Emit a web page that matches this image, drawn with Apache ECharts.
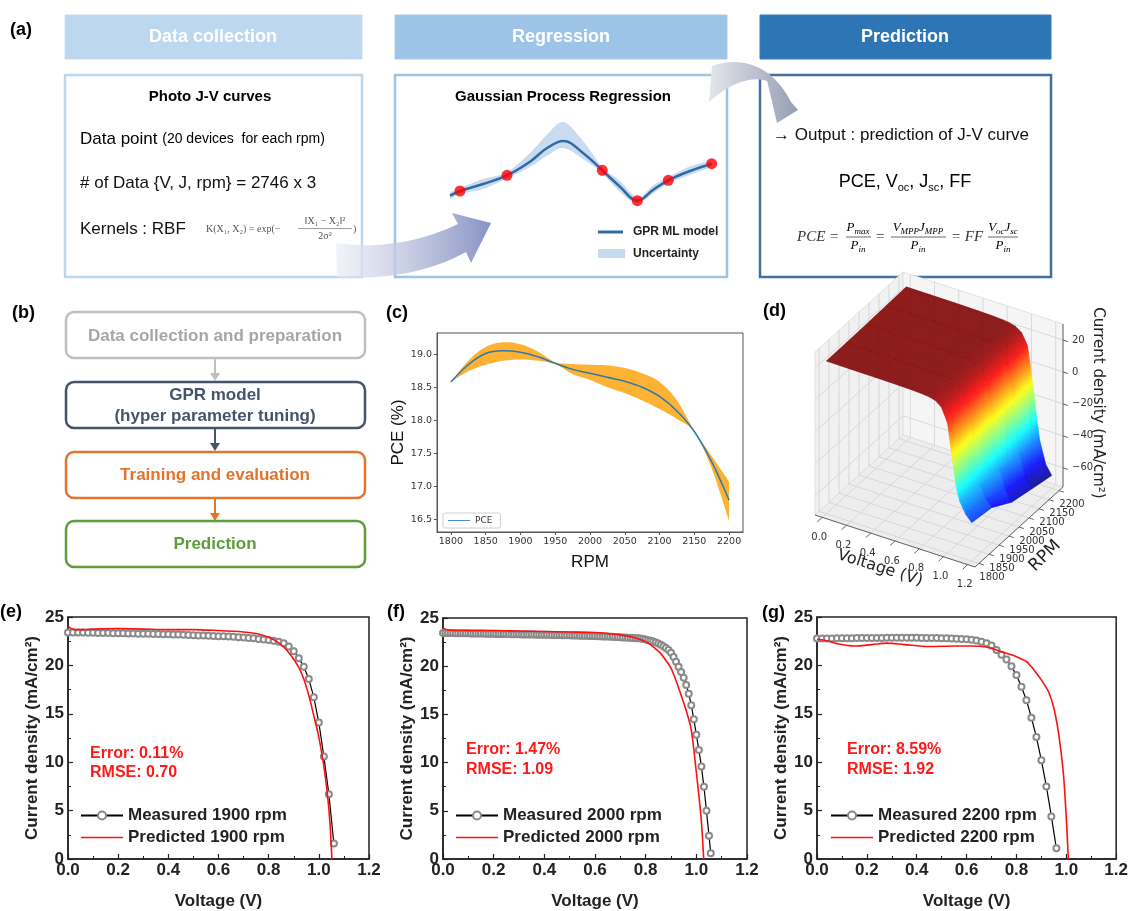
<!DOCTYPE html>
<html><head><meta charset="utf-8">
<script src="https://cdn.jsdelivr.net/npm/echarts@6/dist/echarts.min.js"></script>
<style>html,body{margin:0;padding:0;background:#fff}#c{width:1131px;height:911px}</style>
</head><body><div id="c"></div>
<script>
// ---------------- DATA ----------------
// (c) PCE vs RPM (GPR mean and uncertainty band)
const pceRpm   = [1800,1825,1850,1875,1900,1925,1950,1975,2000,2025,2050,2075,2100,2125,2150,2175,2200];
const pceMean  = [18.58,18.84,19.01,19.05,19.03,18.96,18.86,18.77,18.71,18.65,18.59,18.50,18.36,18.14,17.83,17.37,16.79];
const pceUpper = [18.58,18.90,19.11,19.18,19.15,19.04,18.88,18.85,18.84,18.83,18.79,18.71,18.58,18.30,17.84,17.46,17.07];
const pceLower = [18.58,18.74,18.84,18.90,18.92,18.90,18.85,18.70,18.61,18.50,18.41,18.30,18.17,18.02,17.82,17.27,16.47];
const pceXTicks = [1800,1850,1900,1950,2000,2050,2100,2150,2200];
const pceYTicks = [16.5,17.0,17.5,18.0,18.5,19.0];

// (e) 1900 rpm
const vMeasE = [0,0.02,0.04,0.06,0.08,0.1,0.12,0.14,0.16,0.18,0.2,0.22,0.24,0.26,0.28,0.3,0.32,0.34,0.36,0.38,0.4,0.42,0.44,0.46,0.48,0.5,0.52,0.54,0.56,0.58,0.6,0.62,0.64,0.66,0.68,0.7,0.72,0.74,0.76,0.78,0.8,0.82,0.84,0.86,0.88,0.9,0.92,0.94,0.96,0.98,1.0,1.02,1.04,1.06];
const jMeasE = [23.40,23.40,23.40,23.39,23.38,23.37,
  23.36,23.35,23.34,23.33,23.32,23.31,23.30,23.29,23.28,23.27,
  23.26,23.25,23.24,23.23,23.22,23.20,23.18,23.16,23.14,23.12,
  23.10,23.08,23.06,23.04,23.02,23.00,22.98,22.95,22.92,22.88,
  22.84,22.80,22.74,22.68,22.62,22.54,22.44,22.30,21.95,21.45,
  20.75,19.85,18.60,16.70,14.10,10.60,6.70,1.60];
const vPredE = [0,0.01,0.03,0.06,0.1,0.2,0.3,0.4,0.5,0.6,0.7,0.75,0.78,0.8,0.83,0.86,0.89,0.92,0.94,0.96,0.98,1.0,1.02,1.035,1.045,1.052];
const jPredE = [24.05,23.85,23.7,23.7,23.75,23.8,23.75,23.7,23.7,23.6,23.45,23.3,23.1,22.9,22.5,21.9,21.0,19.8,18.6,16.9,14.8,12.6,9.6,6.5,3.5,0];

// (f) 2000 rpm
const vMeasF = [0,0.01,0.02,0.03,0.04,0.05,0.06,0.07,0.08,0.09,0.1,0.11,0.12,0.13,0.14,0.15,0.16,0.17,0.18,0.19,0.2,0.21,0.22,0.23,0.24,0.25,0.26,0.27,0.28,0.29,0.3,0.31,0.32,0.33,0.34,0.35,0.36,0.37,0.38,0.39,0.4,0.41,0.42,0.43,0.44,0.45,0.46,0.47,0.48,0.49,0.5,0.51,0.52,0.53,0.54,0.55,0.56,0.57,0.58,0.59,0.6,0.61,0.62,0.63,0.64,0.65,0.66,0.67,0.68,0.69,0.7,0.71,0.72,0.73,0.74,0.75,0.76,0.77,0.78,0.79,0.8,0.81,0.82,0.83,0.84,0.85,0.86,0.87,0.88,0.89,0.9,0.91,0.92,0.93,0.94,0.95,0.96,0.97,0.98,0.99,1.0,1.01,1.02,1.03,1.04,1.05,1.057];
const jMeasF = [23.45,23.45,23.45,23.44,23.44,23.43,23.43,23.42,23.42,23.41,
  23.41,23.40,23.40,23.39,23.39,23.38,23.38,23.37,23.37,23.36,
  23.36,23.35,23.35,23.34,23.34,23.33,23.33,23.32,23.32,23.31,
  23.31,23.30,23.30,23.29,23.29,23.28,23.28,23.27,23.27,23.26,
  23.26,23.25,23.25,23.24,23.24,23.23,23.23,23.22,23.21,23.20,
  23.20,23.19,23.18,23.18,23.17,23.16,23.15,23.15,23.14,23.13,
  23.12,23.11,23.10,23.09,23.08,23.07,23.06,23.05,23.03,23.02,
  23.00,22.99,22.97,22.96,22.94,22.93,22.91,22.89,22.87,22.82,
  22.76,22.70,22.63,22.55,22.45,22.35,22.23,22.08,21.90,21.68,
  21.40,20.95,20.45,19.95,19.40,18.80,18.05,17.15,15.95,14.50,
  12.90,11.30,9.60,7.50,5.00,2.40,0.60];
const vPredF = [0,0.02,0.05,0.1,0.2,0.3,0.4,0.5,0.6,0.65,0.7,0.75,0.8,0.83,0.86,0.88,0.9,0.92,0.94,0.96,0.98,1.0,1.01,1.02,1.029];
const jPredF = [23.95,23.75,23.7,23.7,23.7,23.65,23.6,23.55,23.5,23.4,23.25,23.0,22.55,22.0,21.3,20.6,19.8,18.5,17.0,15.4,13.4,9.0,6.6,3.9,0];

// (g) 2200 rpm
const vMeasG = [0,0.02,0.04,0.06,0.08,0.1,0.12,0.14,0.16,0.18,0.2,0.22,0.24,0.26,0.28,0.3,0.32,0.34,0.36,0.38,0.4,0.42,0.44,0.46,0.48,0.5,0.52,0.54,0.56,0.58,0.6,0.62,0.64,0.66,0.68,0.7,0.72,0.74,0.76,0.78,0.8,0.82,0.84,0.86,0.88,0.9,0.92,0.94,0.96];
const jMeasG = [22.78,22.78,22.79,22.79,22.80,22.80,22.81,22.81,22.82,22.82,22.83,
  22.83,22.84,22.84,22.85,22.85,22.85,22.85,22.85,22.85,22.85,
  22.84,22.84,22.83,22.82,22.81,22.80,22.78,22.76,22.73,22.70,
  22.65,22.57,22.45,22.28,22.05,21.60,21.10,20.60,19.90,19.00,17.80,16.40,14.60,12.60,10.20,7.50,4.40,1.10];
const vPredG = [0,0.03,0.08,0.15,0.22,0.28,0.35,0.45,0.55,0.62,0.68,0.72,0.76,0.8,0.84,0.86,0.88,0.9,0.93,0.95,0.97,0.988,1.0,1.008];
const jPredG = [22.7,22.6,22.25,22.0,22.15,22.3,22.15,21.95,22.0,22.0,21.9,21.6,21.25,20.9,20.4,19.85,19.2,18.5,17.2,15.6,12.8,8.9,4.2,0];

// (a) schematic GPR curve (arbitrary units)
const gprX    = [10,20,43,67,90,106.7,123.3,143,162.3,180,197.3,213,228.3,250,271.7];
const gprMean = [14.3,19,26,34.7,48.3,61.7,69,57,39.7,23.3,9.3,20,29.7,39,46.3];
const gprUp   = [17.5,22,31,38,57,75,88,69,43,29,12.5,24.5,33,43.5,49.5];
const gprLow  = [10.5,16,21,31.5,43,54,62,51,36.5,18,6.5,16.5,26.5,35,43];
const gprDotX = [20,67,162.3,197.3,228.3,271.7];
const gprDotY = [19,34.7,39.7,9.3,29.7,46.3];

// (d) 3D surface J(V, rpm)
const surfV   = [0,0.2,0.4,0.6,0.7,0.8,0.85,0.9,0.95,1.0,1.025,1.05,1.075,1.1,1.15,1.2];
const surfRpm = [1800,1900,2000,2100,2200];
const surfJ1800 = [23.5,23.4,23.3,23.1,22.9,22.5,22.0,21.0,18.0,9.5,-4,-18,-30,-37,-44,-48];
const surfJ1900 = [23.6,23.5,23.4,23.2,23.0,22.6,22.1,21.1,18.3,10.0,-3,-17,-30,-38,-46,-50];
const surfJ2000 = [23.8,23.7,23.6,23.4,23.2,22.8,22.3,21.3,18.6,10.5,-2,-16,-30,-40,-52,-58];
const surfJ2100 = [24.1,24.0,23.9,23.7,23.5,23.1,22.6,21.6,19.0,11.5,-1,-15,-30,-42,-55,-61];
const surfJ2200 = [24.5,24.4,24.3,24.1,23.9,23.5,23.0,22.0,19.5,12.5,0,-14,-30,-44,-58,-64];
const vTicks3d   = [0,0.2,0.4,0.6,0.8,1.0,1.2];
const rpmTicks3d = [1800,1850,1900,1950,2000,2050,2100,2150,2200];
const jTicks3d   = [-60,-40,-20,0,20];

// ---------------- HELPERS ----------------
const F = '"Liberation Sans", Arial, sans-serif';
const zip = (a,b)=>a.map((x,i)=>[x,b[i]]);
const surfRows = [surfJ1800,surfJ1900,surfJ2000,surfJ2100,surfJ2200];
const box3d = {vMin:-0.06, vMax:1.26, rMin:1780, rMax:2220, jMin:-72, jMax:30};
function proj(v,r,j){
  const fv=(v-box3d.vMin)/(box3d.vMax-box3d.vMin);
  const fr=(r-box3d.rMin)/(box3d.rMax-box3d.rMin);
  const fj=(j-box3d.jMin)/(box3d.jMax-box3d.jMin);
  return [55+160*fv+88*fr, 255+52*fv-80*fr-163*fj];
}
const cl=x=>Math.max(0,Math.min(1,x));
function jet(t){
  t=cl(t);
  const r=cl(1.5-Math.abs(4*t-3)), g=cl(1.5-Math.abs(4*t-2)), b=cl(1.5-Math.abs(4*t-1));
  return 'rgb('+Math.round(r*255)+','+Math.round(g*255)+','+Math.round(b*255)+')';
}
const jLo=-64, jHi=23;
const jn=j=>(j-jLo)/(jHi-jLo);
const quads=[];
for(let j=0;j<surfRpm.length-1;j++) for(let i=0;i<surfV.length-1;i++){
  const key=(surfV[i]+surfV[i+1])/2/1.2 - ((surfRpm[j]+surfRpm[j+1])/2-1800)/400;
  quads.push([i,j,key]);
}
quads.sort((a,b)=>a[2]-b[2]);

// Catmull-Rom smoothing in pixel space (for drawing smooth band outlines)
function smoothPts(P,n){
  const out=[P[0]];
  for(let i=0;i<P.length-1;i++){
    const p0=P[Math.max(i-1,0)],p1=P[i],p2=P[i+1],p3=P[Math.min(i+2,P.length-1)];
    for(let k=1;k<=n;k++){
      const t=k/n,t2=t*t,t3=t2*t;
      const f=(a,b,c,d)=>0.5*(2*b+(-a+c)*t+(2*a-5*b+4*c-d)*t2+(-a+3*b-3*c+d)*t3);
      out.push([f(p0[0],p1[0],p2[0],p3[0]),f(p0[1],p1[1],p2[1],p3[1])]);
    }
  }
  return out;
}
function bandRenderer(xs,up,lo,fill){
  return function(params,api){
    const U=smoothPts(xs.map((x,i)=>api.coord([x,up[i]])),8);
    const D=smoothPts(xs.map((x,i)=>api.coord([x,lo[i]])),8);
    return {type:'polygon',shape:{points:U.concat(D.reverse())},style:{fill:fill}};
  };
}

function renderSurface(params, api){
  const q=quads[params.dataIndex], i=q[0], j=q[1];
  const P=(a,b)=>api.coord(proj(surfV[a],surfRpm[b],surfRows[b][a]));
  const p00=P(i,j), p10=P(i+1,j), p11=P(i+1,j+1), p01=P(i,j+1);
  const J0=(surfRows[j][i]+surfRows[j+1][i])/2, J1=(surfRows[j][i+1]+surfRows[j+1][i+1])/2;
  const m0=[(p00[0]+p01[0])/2,(p00[1]+p01[1])/2], m1=[(p10[0]+p11[0])/2,(p10[1]+p11[1])/2];
  const ex=p01[0]-p00[0], ey=p01[1]-p00[1], len=Math.hypot(ex,ey)||1;
  const nx=-ey/len, ny=ex/len;
  const d=(m1[0]-m0[0])*nx+(m1[1]-m0[1])*ny;
  const e2=Math.abs(d)>0.5?[m0[0]+nx*d,m0[1]+ny*d]:m1;
  const stops=[0,0.2,0.4,0.6,0.8,1].map(t=>({offset:t,color:jet(jn(J0+(J1-J0)*t))}));
  const grad={type:'linear',x:m0[0],y:m0[1],x2:e2[0],y2:e2[1],global:true,colorStops:stops};
  return {type:'polygon',shape:{points:[p00,p10,p11,p01]},style:{fill:grad,stroke:grad,lineWidth:0.5,opacity:0.88}};
}
function renderPanes(params, api){
  const b=box3d, P=(v,r,j)=>api.coord(proj(v,r,j));
  const ch=[];
  const poly=(pts,fill)=>ch.push({type:'polygon',shape:{points:pts},style:{fill:fill,stroke:'#dcdcdc',lineWidth:0.8}});
  const seg=(a,c,col,w)=>ch.push({type:'line',shape:{x1:a[0],y1:a[1],x2:c[0],y2:c[1]},style:{stroke:col,lineWidth:w}});
  const txt=(p,s,opt)=>ch.push({type:'text',x:p[0],y:p[1],style:Object.assign({text:s,fill:'#333',font:'10px "DejaVu Sans"',align:'center',verticalAlign:'middle'},opt||{})});
  poly([P(b.vMin,b.rMin,b.jMin),P(b.vMin,b.rMax,b.jMin),P(b.vMin,b.rMax,b.jMax),P(b.vMin,b.rMin,b.jMax)],'#f1f1f1');
  poly([P(b.vMin,b.rMax,b.jMin),P(b.vMax,b.rMax,b.jMin),P(b.vMax,b.rMax,b.jMax),P(b.vMin,b.rMax,b.jMax)],'#f5f5f5');
  poly([P(b.vMin,b.rMin,b.jMin),P(b.vMax,b.rMin,b.jMin),P(b.vMax,b.rMax,b.jMin),P(b.vMin,b.rMax,b.jMin)],'#ededed');
  const gc='#d2d2d2';
  jTicks3d.forEach(j=>{seg(P(b.vMin,b.rMin,j),P(b.vMin,b.rMax,j),gc,0.8);seg(P(b.vMin,b.rMax,j),P(b.vMax,b.rMax,j),gc,0.8);});
  rpmTicks3d.forEach(r=>{seg(P(b.vMin,r,b.jMin),P(b.vMin,r,b.jMax),gc,0.8);seg(P(b.vMin,r,b.jMin),P(b.vMax,r,b.jMin),gc,0.8);});
  vTicks3d.forEach(v=>{seg(P(v,b.rMax,b.jMin),P(v,b.rMax,b.jMax),gc,0.8);seg(P(v,b.rMin,b.jMin),P(v,b.rMax,b.jMin),gc,0.8);});
  const ac='#555';
  seg(P(b.vMin,b.rMin,b.jMin),P(b.vMax,b.rMin,b.jMin),ac,0.9);
  seg(P(b.vMax,b.rMin,b.jMin),P(b.vMax,b.rMax,b.jMin),ac,0.9);
  seg(P(b.vMax,b.rMax,b.jMin),P(b.vMax,b.rMax,b.jMax),ac,0.9);
  vTicks3d.forEach(v=>{const p=P(v,b.rMin,b.jMin);seg(p,P(v,b.rMin-25,b.jMin),ac,0.9);txt([p[0]-3,p[1]+20],v.toFixed(1));});
  rpmTicks3d.forEach(r=>{const p=P(b.vMax,r,b.jMin);seg(p,P(b.vMax+0.04,r,b.jMin),ac,0.9);txt([p[0]+13,p[1]+14],String(r));});
  jTicks3d.forEach(j=>{const p=P(b.vMax,b.rMax,j);seg(p,P(b.vMax+0.04,b.rMax,j),ac,0.9);txt([p[0]+9,p[1]],(j<0?'\u2212':'')+Math.abs(j),{align:'left'});});
  return {type:'group',children:ch};
}

// ---------------- GRAPHIC (diagrams & annotations) ----------------
const G=[];
const T=(x,y,text,font,fill,align,extra)=>G.push({type:'text',x:x,y:y,style:Object.assign({text:text,font:font,fill:fill||'#000',align:align||'left',verticalAlign:'middle'},extra||{})});
const R=(x,y,w,h,fill,stroke,lw,r)=>G.push({type:'rect',shape:{x:x,y:y,width:w,height:h,r:r||0},style:{fill:fill,stroke:stroke,lineWidth:lw||0}});
const L=(x1,y1,x2,y2,c,w)=>G.push({type:'line',shape:{x1:x1,y1:y1,x2:x2,y2:y2},style:{stroke:c,lineWidth:w}});
const TRI=(pts,c)=>G.push({type:'polygon',shape:{points:pts},style:{fill:c}});
function bez(p0,p1,p2,p3,n){const out=[];for(let k=1;k<=n;k++){const t=k/n,u=1-t;out.push([u*u*u*p0[0]+3*u*u*t*p1[0]+3*u*t*t*p2[0]+t*t*t*p3[0],u*u*u*p0[1]+3*u*u*t*p1[1]+3*u*t*t*p2[1]+t*t*t*p3[1]]);}return out;}

// panel labels
T(10,30,'(a)','bold 18px '+F);
T(12,313,'(b)','bold 18px '+F);
T(386,313,'(c)','bold 18px '+F);
T(763,311,'(d)','bold 18px '+F);
T(0,612,'(e)','bold 18px '+F);
T(387,612,'(f)','bold 18px '+F);
T(762,613,'(g)','bold 18px '+F);

// (a) headers
R(65,15,297,44,'#bdd7ee','#c9def2',1);
R(395,15,332,44,'#9dc3e6','#a9cbe9',1);
R(760,15,291,44,'#2e75b6','#3b7fbd',1);
T(213,37,'Data collection','bold 18px '+F,'#fff','center');
T(561,37,'Regression','bold 18px '+F,'#fff','center');
T(905,37,'Prediction','bold 18px '+F,'#fff','center');
// (a) content boxes
R(65,75,297,202,'#fff','#bdd7ee',2.5);
R(395,75,332,202,'#fff','#9dc3e6',2.5);
R(760,75,291,202,'#fff','#41719c',2.5);
// box 1 text
T(210,97,'Photo J-V curves','bold 15px '+F,'#000','center');
G.push({type:'text',x:80,y:139,style:{text:'{a|Data point }{b|(20 devices  for each rpm)}',verticalAlign:'middle',rich:{a:{fontSize:17,fontFamily:'Liberation Sans',color:'#111'},b:{fontSize:14,fontFamily:'Liberation Sans',color:'#111'}}}});
T(80,183,'# of Data {V, J, rpm} = 2746 x 3','17px '+F,'#111');
T(80,229,'Kernels : RBF','17px '+F,'#111');
T(206,229,'K(X\u2081, X\u2082) = exp(\u2212','10px "Liberation Serif"','#555');
T(325,221,'\u2016X\u2081 \u2212 X\u2082\u2016\u00b2','10px "Liberation Serif"','#555','center');
L(298,228.5,352,228.5,'#777',0.7);
T(325,236,'2\u03c3\u00b2','10px "Liberation Serif"','#555','center');
T(353,229,')','10px "Liberation Serif"','#555');
// box 2 text
T(563,97,'Gaussian Process Regression','bold 15px '+F,'#000','center');
L(598,232,623,232,'#2f6aa3',3);
T(633,232,'GPR ML model','bold 12px '+F,'#222');
R(598,249,27,9,'#c6d9f0',null,0);
T(633,254,'Uncertainty','bold 12px '+F,'#222');
// box 3 text
T(773,135,'\u2192 Output : prediction of J-V curve','17px '+F,'#111');
G.push({type:'text',x:905,y:182,style:{text:'{a|PCE, V}{s|oc}{a|, J}{s|sc}{a|, FF}',align:'center',verticalAlign:'middle',rich:{a:{fontSize:18,fontFamily:'Liberation Sans',color:'#111',lineHeight:22},s:{fontSize:11,fontFamily:'Liberation Sans',color:'#111',verticalAlign:'bottom',lineHeight:14}}}});
const fr={i:{fontSize:13,fontStyle:'italic',fontFamily:'Liberation Serif',color:'#333',lineHeight:16},s:{fontSize:9,fontStyle:'italic',fontFamily:'Liberation Serif',color:'#333',verticalAlign:'bottom',lineHeight:12}};
const FT=(x,y,t)=>G.push({type:'text',x:x,y:y,style:{text:t,align:'center',verticalAlign:'middle',rich:fr}});
T(797,237,'PCE =','italic 15px "Liberation Serif"','#333');
FT(858,228,'{i|P}{s|max}'); L(846,237,871,237,'#444',0.8); FT(858,246,'{i|P}{s|in}');
T(880,237,'=','italic 15px "Liberation Serif"','#333','center');
FT(918,228,'{i|V}{s|MPP}{i|J}{s|MPP}'); L(891,237,946,237,'#444',0.8); FT(918,246,'{i|P}{s|in}');
T(951,237,'= FF','italic 15px "Liberation Serif"','#333');
FT(1003,228,'{i|V}{s|oc}{i|J}{s|sc}'); L(988,237,1018,237,'#444',0.8); FT(1003,246,'{i|P}{s|in}');
// curved arrows (polygons sampled from bezier outlines)
const arrow1=[[337,277],[336,243]].concat(bez([336,243],[380,250],[425,240],[458,224],16),[[452,213],[491,223],[471,263],[466,252]],bez([466,252],[430,272],[385,280],[337,277],16));
G.push({type:'polygon',shape:{points:arrow1},style:{fill:{type:'linear',x:0,y:0,x2:1,y2:0,colorStops:[{offset:0,color:'rgba(236,238,246,0.7)'},{offset:1,color:'#8893c3'}]}}});
const arrow2=[[709,102],[712,66]].concat(bez([712,66],[740,56],[772,64],[791,102],16),[[798,110],[777,123],[766,76],[773,84]],bez([773,84],[758,74],[733,80],[709,102],16));
G.push({type:'polygon',shape:{points:arrow2},style:{fill:{type:'linear',x:0,y:0,x2:1,y2:0,colorStops:[{offset:0,color:'#e4e6ec'},{offset:1,color:'#979db3'}]}}});

// (b) flowchart
R(66,312,299,46,'#fff','#bfbfbf',2.5,8);
T(215,336,'Data collection and preparation','bold 17px '+F,'#a6a6a6','center');
L(215,358,215,374,'#bfbfbf',2); TRI([[210,373],[220,373],[215,381]],'#bfbfbf');
R(66,382,299,46,'#fff','#44546a',2.5,8);
T(215,395,'GPR model','bold 17px '+F,'#44546a','center');
T(215,416,'(hyper parameter tuning)','bold 17px '+F,'#44546a','center');
L(215,428,215,444,'#44546a',2); TRI([[210,443],[220,443],[215,451]],'#44546a');
R(66,452,299,46,'#fff','#e2742c',2.5,8);
T(215,475,'Training and evaluation','bold 17px '+F,'#e2742c','center');
L(215,498,215,514,'#e2742c',2); TRI([[210,513],[220,513],[215,521]],'#e2742c');
R(66,521,299,46,'#fff','#5e9c3c',2.5,8);
T(215,544,'Prediction','bold 17px '+F,'#5e9c3c','center');

// (d) axis titles
G.push({type:'text',x:880,y:568,rotation:-0.31,style:{text:'Voltage (V)',font:'16px "DejaVu Sans"',fill:'#222',align:'center',verticalAlign:'middle'}});
G.push({type:'text',x:1045,y:556,rotation:0.78,style:{text:'RPM',font:'17px "DejaVu Sans"',fill:'#222',align:'center',verticalAlign:'middle'}});
G.push({type:'text',x:1098,y:403,rotation:-Math.PI/2,style:{text:'Current density (mA/cm\u00b2)',font:'15px "DejaVu Sans"',fill:'#222',align:'center',verticalAlign:'middle'}});

// (e)(f)(g) annotations
T(90,754,'Error: 0.11%','bold 16px '+F,'#ff1a1a');
T(90,773,'RMSE: 0.70','bold 16px '+F,'#ff1a1a');
T(466,750,'Error: 1.47%','bold 16px '+F,'#ff1a1a');
T(466,770,'RMSE: 1.09','bold 16px '+F,'#ff1a1a');
T(847,750,'Error: 8.59%','bold 16px '+F,'#ff1a1a');
T(847,770,'RMSE: 1.92','bold 16px '+F,'#ff1a1a');

// ---------------- AXES ----------------
function jvX(gi){return {gridIndex:gi,type:'value',min:0,max:1.2,interval:0.2,name:'Voltage (V)',nameLocation:'middle',nameGap:34,
  nameTextStyle:{fontSize:17,fontWeight:'bold',fontFamily:'Liberation Sans',color:'#222'},
  axisLine:{lineStyle:{color:'#222',width:1.5}},axisTick:{inside:true,length:5,lineStyle:{color:'#222',width:1.2}},
  minorTick:{show:true,splitNumber:2,length:3,lineStyle:{color:'#222',width:1}},
  axisLabel:{fontSize:17,fontWeight:'bold',fontFamily:'Liberation Sans',color:'#222',margin:3,formatter:v=>v.toFixed(1)},splitLine:{show:false}};}
function jvY(gi){return {gridIndex:gi,type:'value',min:0,max:25,interval:5,name:'Current density (mA/cm\u00b2)',nameLocation:'middle',nameGap:22,
  nameTextStyle:{fontSize:17,fontWeight:'bold',fontFamily:'Liberation Sans',color:'#222'},
  axisLine:{lineStyle:{color:'#222',width:1.5}},axisTick:{inside:true,length:5,lineStyle:{color:'#222',width:1.2}},
  minorTick:{show:true,splitNumber:2,length:3,lineStyle:{color:'#222',width:1}},
  axisLabel:{fontSize:17,fontWeight:'bold',fontFamily:'Liberation Sans',color:'#222',margin:4},splitLine:{show:false}};}
const gridBorder={show:true,borderColor:'#222',borderWidth:1.5};
// thin-line legend icon (invisible corner points keep the aspect)
const LINE_ICON='path://M0,0L0.01,0L0.01,0.01L0,0.01Z M0,4.2L42,4.2L42,5.8L0,5.8Z M41.99,9.99L42,9.99L42,10L41.99,10Z';
function jvLegend(names,left){return {data:[{name:names[0]},{name:names[1],icon:LINE_ICON}],orient:'vertical',left:left,top:807,itemWidth:42,itemHeight:10,itemGap:5,padding:0,selectedMode:false,
  textStyle:{fontSize:17,fontWeight:'bold',fontFamily:'Liberation Sans',color:'#222'}};}
function measSeries(name,gi,v,j){return {type:'line',name:name,xAxisIndex:gi,yAxisIndex:gi,data:zip(v,j),symbol:'emptyCircle',symbolSize:6,
  lineStyle:{color:'#000',width:1.2},itemStyle:{color:'#8a8a8a',borderWidth:0.8},z:3};}
function predSeries(name,gi,v,j){return {type:'line',name:name,xAxisIndex:gi,yAxisIndex:gi,data:zip(v,j),symbol:'none',smooth:0.3,
  lineStyle:{color:'#ff1010',width:1.6},itemStyle:{color:'#ff1010'},z:4};}

const option={
  animation:false,
  backgroundColor:'#fff',
  graphic:{elements:G},
  grid:[
    {left:437,top:333,width:306,height:199,show:true,borderColor:'#555',borderWidth:1},
    Object.assign({left:68,top:617,width:301,height:242},gridBorder),
    Object.assign({left:443,top:618,width:304,height:243},gridBorder),
    Object.assign({left:817,top:617,width:301,height:242},gridBorder),
    {left:440,top:110,width:280,height:100},
    {left:760,top:260,width:370,height:340}
  ],
  xAxis:[
    {gridIndex:0,type:'value',min:1780,max:2220,name:'RPM',nameLocation:'middle',nameGap:22,
     nameTextStyle:{fontSize:17,fontFamily:'Liberation Sans',color:'#111'},
     axisLine:{lineStyle:{color:'#555'}},axisTick:{show:true,customValues:pceXTicks,length:3,lineStyle:{color:'#555'}},
     axisLabel:{customValues:pceXTicks,fontSize:9.5,fontFamily:'DejaVu Sans',color:'#333',margin:5,formatter:v=>String(v)},splitLine:{show:false}},
    jvX(1),jvX(2),jvX(3),
    {gridIndex:4,type:'value',min:0,max:280,show:false},
    {gridIndex:5,type:'value',min:0,max:370,show:false}
  ],
  yAxis:[
    {gridIndex:0,type:'value',min:16.31,max:19.32,name:'PCE (%)',nameLocation:'middle',nameGap:30,
     nameTextStyle:{fontSize:17,fontFamily:'Liberation Sans',color:'#111'},
     axisLine:{lineStyle:{color:'#555'}},axisTick:{show:true,customValues:pceYTicks,length:3,lineStyle:{color:'#555'}},
     axisLabel:{customValues:pceYTicks,fontSize:9.5,fontFamily:'DejaVu Sans',color:'#333',margin:5,formatter:v=>v.toFixed(1)},splitLine:{show:false}},
    jvY(1),jvY(2),jvY(3),
    {gridIndex:4,type:'value',min:0,max:100,show:false},
    {gridIndex:5,type:'value',min:0,max:340,inverse:true,show:false}
  ],
  legend:[
    {data:[{name:'PCE',icon:'path://M0,0L0.01,0L0.01,0.01L0,0.01Z M0,3.4L22,3.4L22,4.6L0,4.6Z M21.99,7.99L22,7.99L22,8L21.99,8Z'}],
     left:443,top:513,orient:'vertical',borderColor:'#d0d0d0',borderWidth:1,borderRadius:2,padding:[3,8,3,5],
     itemWidth:22,itemHeight:8,selectedMode:false,textStyle:{fontSize:9,fontFamily:'DejaVu Sans',color:'#333'}},
    jvLegend(['Measured 1900 rpm','Predicted 1900 rpm'],80),
    jvLegend(['Measured 2000 rpm','Predicted 2000 rpm'],455),
    jvLegend(['Measured 2200 rpm','Predicted 2200 rpm'],830)
  ],
  series:[
    // (c)
    {type:'custom',name:'pceBand',xAxisIndex:0,yAxisIndex:0,data:[[pceRpm[0],pceMean[0]]],renderItem:bandRenderer(pceRpm,pceUpper,pceLower,'#fdb234'),silent:true,z:1},
    {type:'line',name:'PCE',xAxisIndex:0,yAxisIndex:0,data:zip(pceRpm,pceMean),symbol:'none',smooth:0.4,lineStyle:{color:'#2c79b0',width:1.5},itemStyle:{color:'#3f8fd0'},z:3},
    // (e)(f)(g)
    measSeries('Measured 1900 rpm',1,vMeasE,jMeasE), predSeries('Predicted 1900 rpm',1,vPredE,jPredE),
    measSeries('Measured 2000 rpm',2,vMeasF,jMeasF), predSeries('Predicted 2000 rpm',2,vPredF,jPredF),
    measSeries('Measured 2200 rpm',3,vMeasG,jMeasG), predSeries('Predicted 2200 rpm',3,vPredG,jPredG),
    // (a) schematic GPR
    {type:'custom',name:'gprBand',xAxisIndex:4,yAxisIndex:4,data:[[gprX[0],gprMean[0]]],renderItem:bandRenderer(gprX,gprUp,gprLow,'#c9dbf1'),silent:true,z:1},
    {type:'line',name:'gprMean',xAxisIndex:4,yAxisIndex:4,data:zip(gprX,gprMean),symbol:'none',smooth:0.4,lineStyle:{color:'#2f6aa3',width:2.5},z:3},
    {type:'scatter',name:'gprPts',xAxisIndex:4,yAxisIndex:4,data:zip(gprDotX,gprDotY),symbolSize:11,itemStyle:{color:'#ff0000'},z:4},
    // (d) 3D
    {type:'custom',name:'panes',xAxisIndex:5,yAxisIndex:5,data:[[0,0]],renderItem:renderPanes,silent:true,z:1},
    {type:'custom',name:'surface',xAxisIndex:5,yAxisIndex:5,data:quads.map(q=>[q[0],q[1]]),renderItem:renderSurface,silent:true,z:2}
  ]
};
const chart=echarts.init(document.getElementById('c'),null,{renderer:'canvas'});
chart.setOption(option);
</script></body></html>
